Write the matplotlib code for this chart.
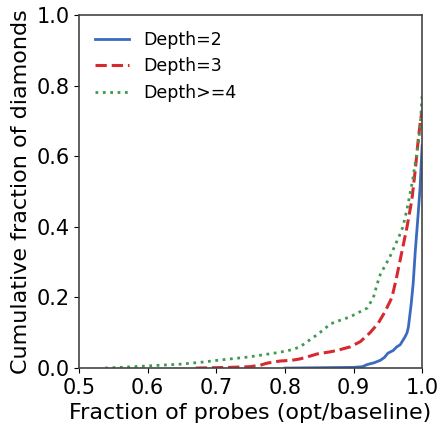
import matplotlib
matplotlib.use("Agg")
import matplotlib.pyplot as plt

# -----------------------------------------
# data
# -----------------------------------------
depth2_x = [0.80, 0.85, 0.90, 0.913, 0.92, 0.93, 0.939, 0.945, 0.95, 0.958,
            0.963, 0.968, 0.975, 0.978, 0.980, 0.984, 0.987, 0.990, 0.994,
            0.997, 1.0]
depth2_y = [0.0, 0.001, 0.002, 0.004, 0.01, 0.015, 0.022, 0.03, 0.042, 0.05,
            0.06, 0.066, 0.088, 0.10, 0.116, 0.18, 0.24, 0.33, 0.43,
            0.51, 0.63]

depth3_x = [0.67, 0.72, 0.749, 0.764, 0.774, 0.793, 0.81, 0.822, 0.835, 0.847,
            0.866, 0.876, 0.895, 0.91, 0.924, 0.936, 0.946, 0.956, 0.962,
            0.968, 0.978, 0.985, 0.99, 0.994, 0.997, 1.0]
depth3_y = [0.0, 0.002, 0.004, 0.008, 0.014, 0.02, 0.022, 0.026, 0.033, 0.04,
            0.046, 0.05, 0.06, 0.075, 0.10, 0.127, 0.16, 0.20, 0.25,
            0.306, 0.40, 0.476, 0.56, 0.64, 0.69, 0.73]

depth4_x = [0.538, 0.57, 0.599, 0.647, 0.68, 0.706, 0.745, 0.77, 0.793, 0.81,
            0.822, 0.832, 0.845, 0.856, 0.866, 0.88, 0.895, 0.91, 0.92, 0.929,
            0.934, 0.939, 0.946, 0.953, 0.96, 0.968, 0.972, 0.978, 0.982,
            0.986, 0.990, 0.994, 0.997, 1.0]
depth4_y = [0.0, 0.003, 0.006, 0.011, 0.017, 0.023, 0.031, 0.038, 0.045, 0.052,
            0.06, 0.074, 0.092, 0.108, 0.125, 0.135, 0.145, 0.16, 0.17, 0.20,
            0.235, 0.265, 0.29, 0.315, 0.345, 0.38, 0.40, 0.45, 0.49,
            0.53, 0.58, 0.63, 0.68, 0.77]

# -----------------------------------------
# plot
# -----------------------------------------
fig, ax = plt.subplots(figsize=(4.42, 4.28), dpi=100)
fig.subplots_adjust(left=0.179, right=0.955, top=0.965, bottom=0.14)

ax.plot(depth2_x, depth2_y, "-", color="#3a6bbf", lw=2, label="Depth=2")
ax.plot(depth3_x, depth3_y, "--", color="#d62a2f", lw=2.2, label="Depth=3")
ax.plot(depth4_x, depth4_y, ":", color="#3d9a4e", lw=2, label="Depth>=4")

ax.set_xlim(0.5, 1.0)
ax.set_ylim(0.0, 1.0)
ax.set_xticks([0.5, 0.6, 0.7, 0.8, 0.9, 1.0])
ax.set_yticks([0.0, 0.2, 0.4, 0.6, 0.8, 1.0])
ax.tick_params(labelsize=15)
for s in ax.spines.values():
    s.set_color("#444444")
    s.set_linewidth(1.2)

ax.set_xlabel("Fraction of probes (opt/baseline)", fontsize=16)
ax.set_ylabel("Cumulative fraction of diamonds", fontsize=16)
ax.legend(loc="upper left", frameon=False, fontsize=12.5)

fig.savefig("out.png", dpi=100)
